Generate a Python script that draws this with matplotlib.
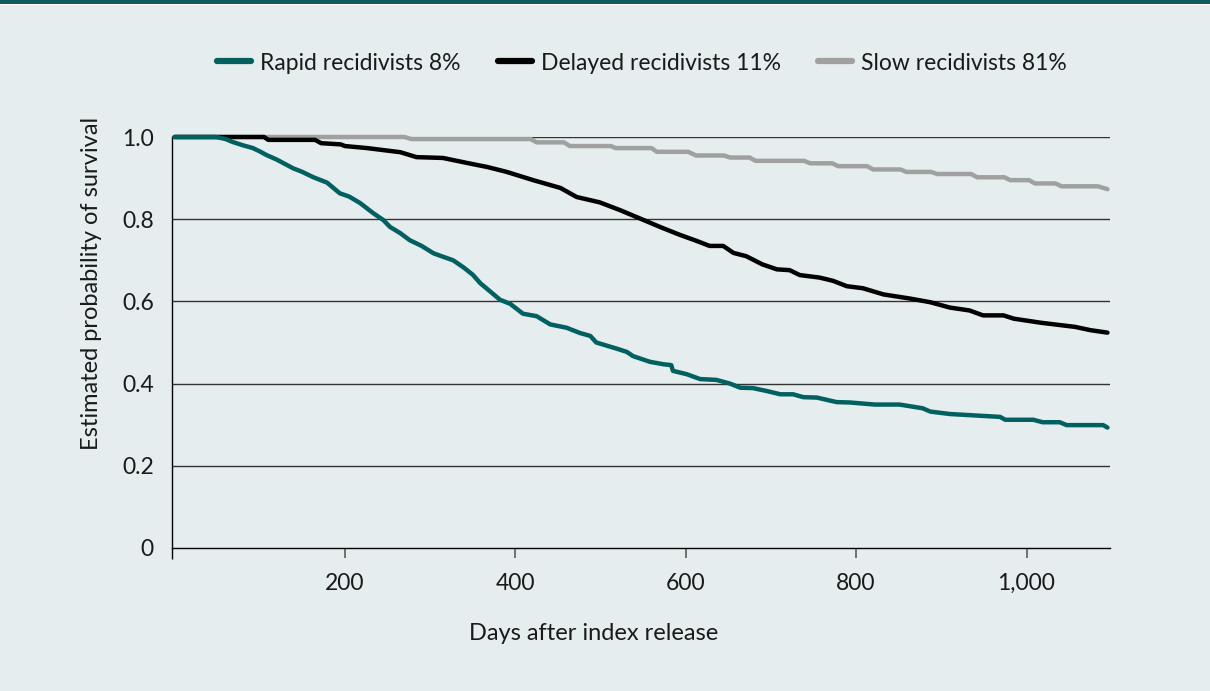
import matplotlib
matplotlib.use("Agg")
import matplotlib.pyplot as plt
from matplotlib.lines import Line2D
from matplotlib.patches import Rectangle

# ---- data ----
rapid_days = [0, 49, 60, 68, 80, 92, 100, 108, 120, 139, 150, 163, 179, 194, 205, 218, 233, 245, 253, 265,
              276, 290, 304, 316, 327, 339, 350, 359, 370, 382, 394, 409, 425, 441, 460, 476, 488, 495, 519, 531,
              538, 558, 574, 583, 585, 601, 617, 636, 652, 664, 679, 695, 711, 726, 738, 754, 777, 793, 822, 851,
              878, 887, 910, 969, 975, 1008, 1019, 1039, 1047, 1090, 1095]
rapid_surv = [1.0, 1.0, 0.995, 0.988, 0.98, 0.973, 0.965, 0.956, 0.945, 0.924, 0.915, 0.902, 0.889, 0.863, 0.855,
              0.839, 0.815, 0.798, 0.781, 0.766, 0.749, 0.735, 0.717, 0.708, 0.700, 0.683, 0.665, 0.644, 0.625,
              0.604, 0.594, 0.570, 0.564, 0.544, 0.536, 0.523, 0.516, 0.500, 0.485, 0.477, 0.467, 0.453, 0.447,
              0.445, 0.431, 0.423, 0.411, 0.409, 0.400, 0.390, 0.389, 0.382, 0.374, 0.374, 0.367, 0.366, 0.355,
              0.354, 0.349, 0.349, 0.340, 0.332, 0.326, 0.319, 0.312, 0.312, 0.306, 0.306, 0.299, 0.299, 0.293]

delayed_days = [0, 105, 110, 165, 172, 195, 200, 226, 265, 284, 315, 343, 367, 390, 421, 453, 472, 499, 523, 546,
                570, 593, 613, 628, 644, 656, 671, 690, 707, 722, 734, 757, 773, 789, 808, 832, 863, 887, 910, 933,
                949, 973, 985, 1017, 1057, 1075, 1095]
delayed_surv = [1.0, 1.0, 0.993, 0.993, 0.985, 0.982, 0.978, 0.973, 0.963, 0.951, 0.949, 0.937, 0.927, 0.915,
                0.895, 0.876, 0.854, 0.841, 0.822, 0.802, 0.781, 0.762, 0.747, 0.735, 0.735, 0.718, 0.710, 0.690,
                0.678, 0.676, 0.664, 0.658, 0.650, 0.637, 0.632, 0.617, 0.607, 0.598, 0.585, 0.578, 0.566, 0.566,
                0.558, 0.548, 0.538, 0.530, 0.524]

slow_days = [0, 270, 278, 418, 425, 457, 464, 512, 518, 560, 566, 603, 612, 645, 652, 675, 682, 739, 746, 772,
             779, 813, 820, 852, 859, 888, 895, 935, 942, 974, 981, 1003, 1010, 1034, 1041, 1084, 1095]
slow_surv = [1.0, 1.0, 0.995, 0.995, 0.987, 0.987, 0.978, 0.978, 0.973, 0.973, 0.964, 0.964, 0.955, 0.955,
             0.950, 0.950, 0.942, 0.942, 0.936, 0.936, 0.929, 0.929, 0.921, 0.921, 0.915, 0.915, 0.910, 0.910,
             0.902, 0.902, 0.895, 0.895, 0.887, 0.887, 0.880, 0.880, 0.873]

series_labels = ["Rapid recidivists 8%", "Delayed recidivists 11%", "Slow recidivists 81%"]
x_ticks = [200, 400, 600, 800, 1000]
x_tick_labels = ["200", "400", "600", "800", "1,000"]
y_ticks = [0, 0.2, 0.4, 0.6, 0.8, 1.0]
y_tick_labels = ["0", "0.2", "0.4", "0.6", "0.8", "1.0"]

# ---- style ----
BG = "#e5edef"
TEAL = "#006060"
GREY = "#a0a0a0"
TXT = "#1a1a1a"
plt.rcParams['font.family'] = ['Lato', 'DejaVu Sans']

W, H = 1210, 691
fig = plt.figure(figsize=(W / 100, H / 100), dpi=100, facecolor=BG)

# top band
fig.patches.append(Rectangle((0, 1 - 3.5 / H), 1, 3.5 / H, transform=fig.transFigure,
                             facecolor="#0b5c5f", edgecolor="none", zorder=5))
fig.patches.append(Rectangle((0, 1 - 4.7 / H), 1, 1.2 / H, transform=fig.transFigure,
                             facecolor="white", edgecolor="none", zorder=5))

left, right = 172 / W, 1110 / W
bottom, top = 1 - 548 / H, 1 - 137 / H
ax = fig.add_axes([left, bottom, right - left, top - bottom])
ax.set_facecolor(BG)
ax.set_xlim(-3, 1098)
ax.set_ylim(0, 1)

for y in y_ticks[1:]:
    ax.axhline(y, color="#333333", lw=1.0, zorder=1)

lw = 3.2
ax.plot(slow_days, slow_surv, color=GREY, lw=lw, solid_capstyle="round", solid_joinstyle="round",
        clip_on=False, zorder=3)
ax.plot(delayed_days, delayed_surv, color="black", lw=lw, solid_capstyle="round", solid_joinstyle="round",
        clip_on=False, zorder=4)
ax.plot(rapid_days, rapid_surv, color=TEAL, lw=lw, solid_capstyle="round", solid_joinstyle="round",
        clip_on=False, zorder=5)

for s in ["top", "right"]:
    ax.spines[s].set_visible(False)
ax.spines["left"].set_color("black")
ax.spines["bottom"].set_color("black")
ax.spines["left"].set_linewidth(1.0)
ax.spines["bottom"].set_linewidth(1.0)

ax.set_xticks(x_ticks)
ax.set_xticklabels(x_tick_labels, fontsize=16.5, color=TXT)
ax.set_xticks([-3], minor=True)
ax.tick_params(axis="x", which="major", direction="out", length=7, width=1.3, color="#666666", pad=11)
ax.tick_params(axis="x", which="minor", direction="out", length=8, width=1.0, color="black")
ax.set_yticks(y_ticks)
ax.set_yticklabels(y_tick_labels, fontsize=16.5, color=TXT)
ax.tick_params(axis="y", length=0, pad=13)

fig.text(92 / W, 1 - 283 / H, "Estimated probability of survival", rotation=90,
         ha="center", va="center", fontsize=17, color=TXT)
fig.text(594 / W, 1 - 634 / H, "Days after index release", ha="center", va="center",
         fontsize=17, color=TXT)

handles = [Line2D([], [], color=TEAL, lw=4.5, solid_capstyle="round"),
           Line2D([], [], color="black", lw=4.5, solid_capstyle="round"),
           Line2D([], [], color=GREY, lw=4.5, solid_capstyle="round")]
fig.legend(handles, series_labels, loc="center", bbox_to_anchor=(642 / W, 1 - 63 / H), ncol=3,
           frameon=False, fontsize=16.5, handlelength=1.5, handletextpad=0.4, columnspacing=1.6,
           labelcolor=TXT)

fig.savefig("out.png", dpi=100, facecolor=BG)
